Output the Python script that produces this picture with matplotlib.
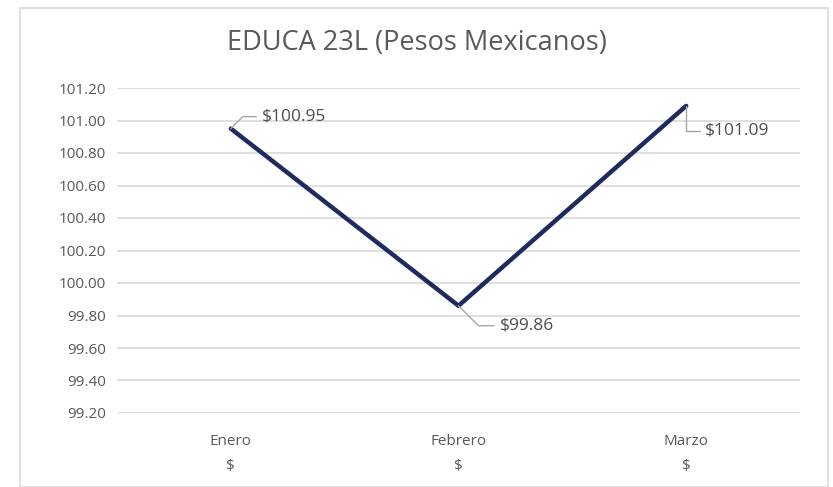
import matplotlib
matplotlib.use("Agg")
import matplotlib.pyplot as plt
from matplotlib.patches import Rectangle

months = ["Enero", "Febrero", "Marzo"]
currency = ["$", "$", "$"]
prices = [100.95, 99.86, 101.09]
labels = ["$100.95", "$99.86", "$101.09"]
yticks = [99.20, 99.40, 99.60, 99.80, 100.00, 100.20, 100.40, 100.60, 100.80, 101.00, 101.20]

plt.rcParams['font.family'] = ['Open Sans', 'DejaVu Sans']
gray = '#595959'

fig = plt.figure(figsize=(8.33, 4.87), dpi=100)
fig.patches.append(Rectangle((20/833, 0), 808/833, 1 - 8/487, transform=fig.transFigure,
                             fill=False, edgecolor='#d9d9d9', linewidth=1.2))
ax = fig.add_axes([117/833, 1 - 413/487, 683/833, 325/487])
x = list(range(len(months)))
ax.plot(x, prices, color='#1f2a5e', linewidth=3.2, solid_capstyle='round', zorder=3)

ax.set_xlim(-0.5, 2.5)
ax.set_ylim(99.2, 101.2)
ax.set_yticks(yticks)
ax.set_yticklabels([f"{v:.2f}" for v in yticks], color=gray, fontsize=11)
ax.set_xticks(x)
ax.set_xticklabels([f"{m}\n{c}" for m, c in zip(months, currency)], color=gray, fontsize=11,
                   linespacing=1.95)
ax.tick_params(length=0, pad=8)
ax.tick_params(axis='x', pad=15)
ax.grid(axis='y', color='#d9d9d9', linewidth=1.2)
ax.set_axisbelow(True)
for s in ax.spines.values():
    s.set_visible(False)

fig.text(0.5, 1 - 43/487, "EDUCA 23L (Pesos Mexicanos)", ha='center', va='center',
         fontsize=19.5, color=gray)

offsets = [(31, 12), (41, -20), (19, -25)]
angles = [45, -45, 90]
for xi, yi, lab, off, ang in zip(x, prices, labels, offsets, angles):
    ax.annotate(lab, xy=(xi, yi), xytext=off, textcoords='offset pixels',
                ha='left', va='center', fontsize=12.5, color='#4d4d4d',
                arrowprops=dict(arrowstyle='-', color='#a6a6a6', linewidth=1,
                                connectionstyle=f'angle,angleA=0,angleB={ang},rad=0',
                                shrinkA=2, shrinkB=0))

fig.savefig("out.png", dpi=100)
